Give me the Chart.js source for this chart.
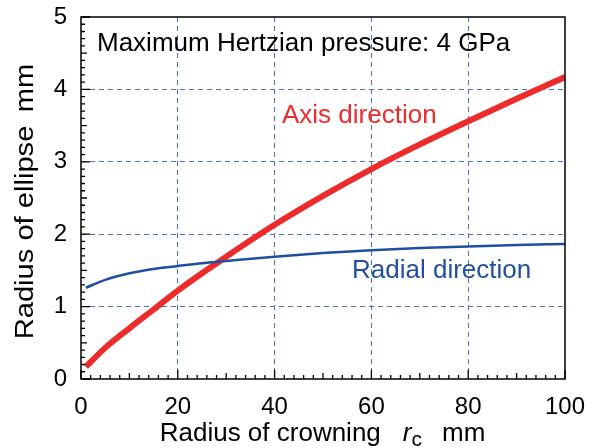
<!DOCTYPE html>
<html>
<head>
<meta charset="utf-8">
<title>Radius of ellipse vs radius of crowning</title>
<script src="https://cdn.jsdelivr.net/npm/chart.js@4.4.1/dist/chart.umd.min.js"></script>
<style>
  html, body { margin: 0; padding: 0; background: #fff; }
  #wrap { width: 594px; height: 448px; }
</style>
</head>
<body>
<div id="wrap"><canvas id="ellipseChart" width="594" height="448"></canvas></div>
<script>
// Contact ellipse radii against crowning radius (max Hertzian pressure 4 GPa)

const crowningRadius = [1, 5, 10, 15, 20, 25, 30, 40, 50, 60, 70, 80, 90, 100];
const axisDirection = [0.17, 0.43, 0.70, 0.96, 1.22, 1.46, 1.69, 2.13, 2.53, 2.90, 3.24, 3.56, 3.87, 4.17];
const radialDirection = [1.26, 1.37, 1.46, 1.52, 1.56, 1.60, 1.63, 1.69, 1.74, 1.78, 1.81, 1.83, 1.85, 1.865];
const xTicks = [0, 20, 40, 60, 80, 100];
const yTicks = [0, 1, 2, 3, 4, 5];

const FONT = '"Liberation Sans", Arial, Helvetica, sans-serif';
const RED = '#ee2b2b';
const BLUE = '#1f4f9f';
const GRID = 'rgb(84,108,192)';

document.addEventListener('DOMContentLoaded', function() {
    initEllipseChart();
});

function toPoints(xs, ys) {
    return xs.map((x, i) => ({ x: x, y: ys[i] }));
}

// grid lines only inside the frame, dashed
function innerGrid(max) {
    return function(c) {
        if (!c.tick) return 'rgba(0,0,0,0)';
        const v = c.tick.value;
        return (v > 0 && v < max) ? GRID : 'rgba(0,0,0,0)';
    };
}

// let layout.padding alone decide where the plot frame sits
function clearPadding(s) {
    s.paddingTop = 0;
    s.paddingBottom = 0;
    s.paddingLeft = 0;
    s.paddingRight = 0;
}

// frame, inward tick marks and all text
const frameAndLabels = {
    id: 'frameAndLabels',
    afterDraw(chart) {
        const ctx = chart.ctx;
        const area = chart.chartArea;
        const xs = chart.scales.x;
        const ys = chart.scales.y;

        ctx.save();
        ctx.strokeStyle = '#000';
        ctx.lineWidth = 1.5;
        ctx.strokeRect(area.left, area.top, area.right - area.left, area.bottom - area.top);

        ctx.lineWidth = 1.3;
        ctx.beginPath();
        for (let v = 0; v <= 100; v += 2) {
            const len = v % 20 === 0 ? 9 : (v % 10 === 0 ? 6 : 4);
            const px = xs.getPixelForValue(v);
            ctx.moveTo(px, area.bottom);
            ctx.lineTo(px, area.bottom - len);
        }
        for (let i = 0; i <= 50; i++) {
            const len = i % 10 === 0 ? 9 : (i % 5 === 0 ? 6 : 4);
            const py = ys.getPixelForValue(i / 10);
            ctx.moveTo(area.left, py);
            ctx.lineTo(area.left + len, py);
        }
        ctx.stroke();

        ctx.textBaseline = 'alphabetic';
        ctx.textAlign = 'left';

        ctx.fillStyle = '#000';
        ctx.font = '26px ' + FONT;
        ctx.fillText('Maximum Hertzian pressure: 4 GPa', 97, 51);

        ctx.fillStyle = RED;
        ctx.fillText('Axis direction', 282, 123);

        ctx.fillStyle = BLUE;
        ctx.fillText('Radial direction', 352, 278);

        // x axis title with italic r and subscript c
        ctx.fillStyle = '#000';
        const main = 'Radius of crowning';
        ctx.font = '26px ' + FONT;
        const wMain = ctx.measureText(main).width;
        const wUnit = ctx.measureText('mm').width;
        ctx.font = 'italic 26px ' + FONT;
        const wR = ctx.measureText('r').width;
        ctx.font = '21px ' + FONT;
        const wC = ctx.measureText('c').width;
        const gap1 = 22, gap2 = 20;
        const total = wMain + gap1 + wR + wC + gap2 + wUnit;
        let x = 322.5 - total / 2;
        const base = 441;
        ctx.font = '26px ' + FONT;
        ctx.fillText(main, x, base);
        x += wMain + gap1;
        ctx.font = 'italic 26px ' + FONT;
        ctx.fillText('r', x, base);
        x += wR;
        ctx.font = '21px ' + FONT;
        ctx.fillText('c', x, base + 5);
        x += wC + gap2;
        ctx.font = '26px ' + FONT;
        ctx.fillText('mm', x, base);

        // y axis title, rotated and a little stretched along its length
        ctx.translate(33, 201.5);
        ctx.rotate(-Math.PI / 2);
        ctx.scale(1.12, 1);
        ctx.font = '26px ' + FONT;
        const yMain = 'Radius of ellipse';
        const wy = ctx.measureText(yMain).width;
        const gapY = 12;
        const totalY = wy + gapY + wUnit;
        ctx.fillText(yMain, -totalY / 2, 0);
        ctx.fillText('mm', -totalY / 2 + wy + gapY, 0);

        ctx.restore();
    }
};

function initEllipseChart() {
    const ctx = document.getElementById('ellipseChart');
    if (!ctx) return;

    new Chart(ctx, {
        type: 'line',
        data: {
            datasets: [
                {
                    label: 'Radial direction',
                    data: toPoints(crowningRadius, radialDirection),
                    borderColor: BLUE,
                    borderWidth: 2.5,
                    pointRadius: 0,
                    cubicInterpolationMode: 'monotone',
                    fill: false
                },
                {
                    label: 'Axis direction',
                    data: toPoints(crowningRadius, axisDirection),
                    borderColor: RED,
                    borderWidth: 6,
                    pointRadius: 0,
                    cubicInterpolationMode: 'monotone',
                    fill: false
                }
            ]
        },
        options: {
            responsive: false,
            animation: false,
            layout: { padding: { top: 17, right: 29, left: 0, bottom: 0 } },
            plugins: {
                legend: { display: false },
                tooltip: { enabled: false }
            },
            scales: {
                x: {
                    type: 'linear',
                    min: 0,
                    max: 100,
                    afterBuildTicks: s => { s.ticks = xTicks.map(v => ({ value: v })); },
                    afterFit: s => { s.height = 69; clearPadding(s); },
                    grid: { color: innerGrid(100), lineWidth: 1, drawTicks: false },
                    border: { display: false, dash: [5, 4] },
                    ticks: {
                        padding: 14,
                        color: '#000',
                        maxRotation: 0,
                        font: { family: FONT, size: 24 }
                    }
                },
                y: {
                    type: 'linear',
                    min: 0,
                    max: 5,
                    afterBuildTicks: s => { s.ticks = yTicks.map(v => ({ value: v })); },
                    afterFit: s => { s.width = 81; clearPadding(s); },
                    grid: { color: innerGrid(5), lineWidth: 1, drawTicks: false },
                    border: { display: false, dash: [5, 4] },
                    ticks: {
                        padding: 14,
                        color: '#000',
                        font: { family: FONT, size: 24 }
                    }
                }
            }
        },
        plugins: [frameAndLabels]
    });
}
</script>
</body>
</html>
